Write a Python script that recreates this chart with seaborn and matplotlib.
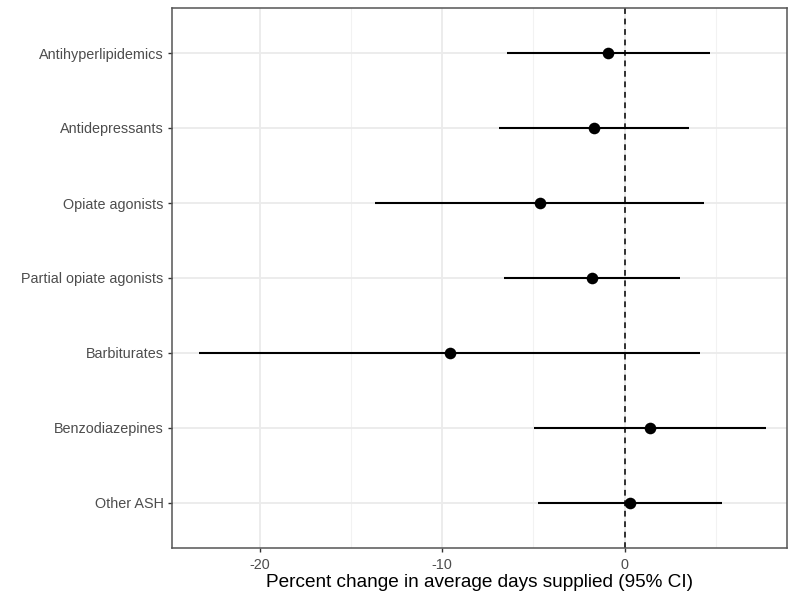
import matplotlib
matplotlib.use("Agg")
import matplotlib.pyplot as plt
import seaborn as sns
import pandas as pd

categories = ["Antihyperlipidemics", "Antidepressants", "Opiate agonists",
              "Partial opiate agonists", "Barbiturates", "Benzodiazepines", "Other ASH"]
estimate = [-0.89, -1.66, -4.66, -1.79, -9.59, 1.40, 0.30]
ci_low = [-6.44, -6.88, -13.69, -6.60, -23.30, -4.96, -4.74]
ci_high = [4.66, 3.53, 4.33, 3.01, 4.11, 7.77, 5.32]
x_ticks = [-20, -10, 0]
x_minor = [-15, -5, 5]
x_label = "Percent change in average days supplied (95% CI)"

df = pd.DataFrame({"cat": categories, "est": estimate, "lo": ci_low, "hi": ci_high})
df["pos"] = range(len(df))

sns.set_theme(style="white")
plt.rcParams["font.family"] = ["Liberation Sans", "DejaVu Sans"]

fig = plt.figure(figsize=(7.88, 5.97), dpi=100)
ax = fig.add_axes([172 / 788, 49 / 597, 615 / 788, 540 / 597])
ax.set_facecolor("white")

# grid
for v in x_minor:
    ax.axvline(v, color="#f2f2f2", lw=0.8, zorder=0)
for v in x_ticks:
    ax.axvline(v, color="#ebebeb", lw=1.3, zorder=0)
for p in df["pos"]:
    ax.axhline(p, color="#ebebeb", lw=1.3, zorder=0)

ax.axvline(0, color="#222222", lw=1.3, linestyle=(0, (3.2, 2.6)), zorder=1)
ax.hlines(df["pos"], df["lo"], df["hi"], color="black", lw=1.5, zorder=2)
sns.scatterplot(data=df, x="est", y="pos", color="black", s=70, edgecolor="black",
                linewidth=0, zorder=3, ax=ax)

ax.set_xlim(-24.8, 8.9)
ax.set_ylim(len(df) - 0.4, -0.6)
ax.set_xticks(x_ticks)
ax.set_xticklabels([str(t) for t in x_ticks])
ax.set_yticks(df["pos"])
ax.set_yticklabels(categories)
ax.set_xlabel(x_label, fontsize=13.7, color="black", labelpad=1.5)
ax.set_ylabel("")
ax.tick_params(axis="both", which="major", length=3.2, width=1, color="#333333",
               labelsize=10.4, labelcolor="#4d4d4d", pad=3, left=True, bottom=True)
ax.tick_params(axis="x", pad=4)
for s in ax.spines.values():
    s.set_visible(True)
    s.set_color("#555555")
    s.set_linewidth(1.1)

fig.savefig("out.png", dpi=100)
